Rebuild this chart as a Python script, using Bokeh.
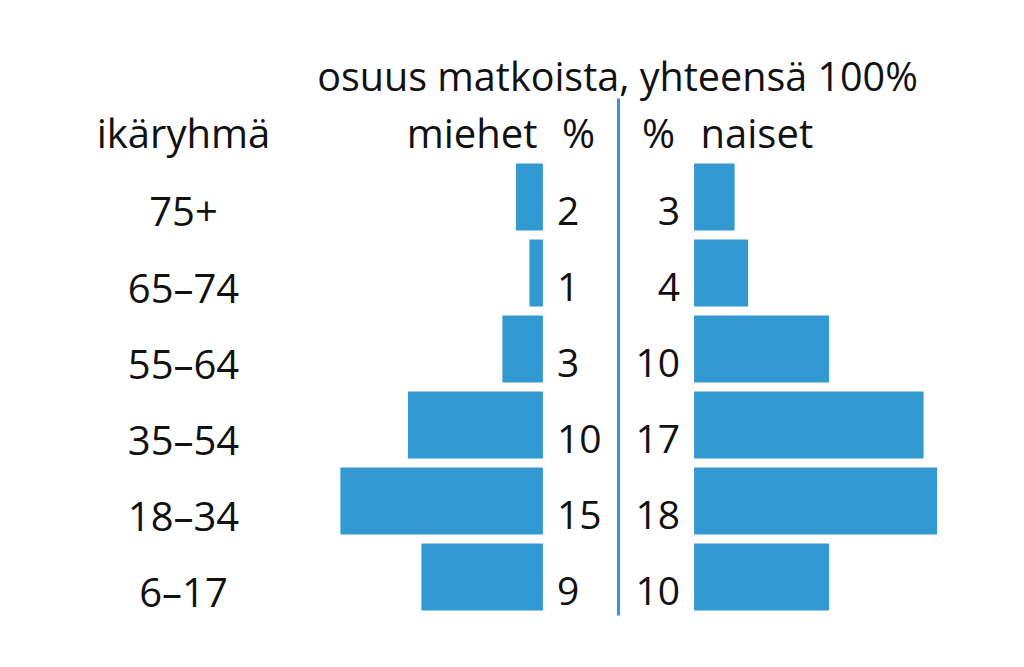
from bokeh.plotting import figure
from bokeh.models import Range1d, ColumnDataSource, Label
from bokeh.core.properties import value
from bokeh.embed import file_html
from bokeh.resources import INLINE

# ---- data ----
age_groups = ["6–17", "18–34", "35–54", "55–64", "65–74", "75+"]
men = [9, 15, 10, 3, 1, 2]
women = [10, 18, 17, 10, 4, 3]
title = "osuus matkoista, yhteensä 100%"
age_header = "ikäryhmä"
men_header = "miehet"
women_header = "naiset"
pct = "%"

# ---- layout constants (pixels in the picture) ----
W, H = 1016, 659
PX_PER_PCT = 13.5
CENTER_X = 618.0          # px of divider
ROW_PX = 76.0
ROW0_Y = 576.5            # px (from top) of bottom row centre
GAP = 5.6                 # pct units between divider and bars
BLUE = "#3399d2"
FONT = value("Open Sans")
FS = "39px"
FS_BIG = "40px"

x0 = -CENTER_X / PX_PER_PCT
x1 = (W - CENTER_X) / PX_PER_PCT
y_bot = (ROW0_Y - H) / ROW_PX
y_top = ROW0_Y / ROW_PX

p = figure(width=W, height=H, output_backend="svg", toolbar_location=None,
           x_range=Range1d(x0, x1), y_range=Range1d(y_bot, y_top),
           min_border=0)
p.axis.visible = False
p.grid.visible = False
p.outline_line_color = None
p.background_fill_color = "white"
p.border_fill_color = "white"

idx = list(range(len(age_groups)))
src = ColumnDataSource(dict(
    y=idx, age=age_groups,
    m_left=[-GAP - v for v in men], m_right=[-GAP] * len(men),
    f_left=[GAP] * len(women), f_right=[GAP + v for v in women],
    m_lab=[str(v) for v in men], f_lab=[str(v) for v in women],
))

bar_h = 67 / ROW_PX
p.hbar(y="y", left="m_left", right="m_right", height=bar_h, source=src,
       fill_color=BLUE, line_color=None)
p.hbar(y="y", left="f_left", right="f_right", height=bar_h, source=src,
       fill_color=BLUE, line_color=None)

# divider line
p.segment(x0=[0], x1=[0], y0=[(ROW0_Y - 615) / ROW_PX], y1=[(ROW0_Y - 98) / ROW_PX],
          line_color=BLUE, line_width=3)

# value labels
p.text(x=-GAP + 14 / PX_PER_PCT, y="y", text="m_lab", source=src,
       text_font=FONT, text_font_size=FS, text_align="left",
       text_baseline="middle", y_offset=14, text_color="#111111")
p.text(x=GAP - 14 / PX_PER_PCT, y="y", text="f_lab", source=src,
       text_font=FONT, text_font_size=FS, text_align="right",
       text_baseline="middle", y_offset=14, text_color="#111111")
# age labels
p.text(x=(183 - CENTER_X) / PX_PER_PCT, y="y", text="age", source=src,
       text_font=FONT, text_font_size=FS_BIG, text_align="center",
       text_baseline="middle", y_offset=14, text_color="#111111")

def lab(txt, x, y, align, fs=FS_BIG):
    p.add_layout(Label(x=x, y=H - y, x_units="screen", y_units="screen", text=txt,
                       text_font="Open Sans", text_font_size=fs, text_align=align,
                       text_baseline="middle", text_color="#111111"))

lab(title, 617, 75, "center", "39.5px")
lab(age_header, 183, 132, "center")
lab(men_header, 537, 132, "right")
lab(pct, 578, 132, "center")
lab(pct, 658, 132, "center")
lab(women_header, 700, 132, "left")

open("out.html", "w").write(file_html(p, INLINE))
